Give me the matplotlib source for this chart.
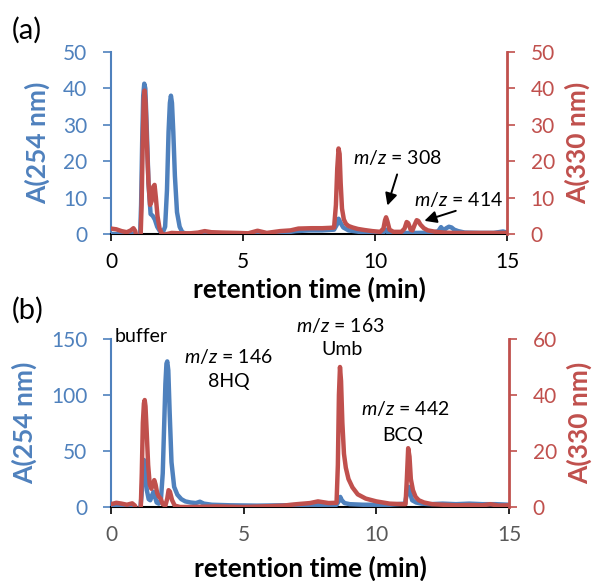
import matplotlib
matplotlib.use("Agg")
import matplotlib.pyplot as plt

plt.rcParams['font.family'] = ['Lato', 'DejaVu Sans']
plt.rcParams['mathtext.fontset'] = 'custom'
plt.rcParams['mathtext.it'] = 'Lato:italic'
plt.rcParams['mathtext.rm'] = 'Lato'

BLUE = '#4F81BD'
RED = '#C0504D'
GRAY = '#595959'

# ---- panel (a) data ----
a_blue_t = [0, 0.5, 0.85, 0.95, 1.1, 1.14, 1.18, 1.22, 1.26, 1.3, 1.35, 1.42, 1.5, 1.58, 1.66,
            1.75, 1.85, 1.95, 2.05, 2.12, 2.18, 2.23, 2.27, 2.31, 2.36, 2.42, 2.5, 2.6, 2.7, 2.85,
            3.5, 4.5, 5.5, 6.5, 7.0, 7.5, 8.0, 8.45, 8.55, 8.62, 8.7, 8.8, 9.0, 9.4, 9.8, 10.3,
            10.42, 10.5, 11.0, 11.6, 12.2, 12.4, 12.5, 12.6, 12.7, 12.8, 12.9, 13.0, 13.15, 13.4,
            14.0, 14.5, 14.85, 15]
a_blue_v = [0, 0, 0, -1, -1, 8, 25, 38, 41.3, 40, 30, 14, 5.5, 5, 4,
            2, 0.8, 0.2, 2, 12, 28, 36, 38, 36, 28, 16, 6, 2, 0.5, 0.1,
            0, 0, 0, 0.3, 0.8, 1.0, 1.0, 1.2, 2.5, 4.2, 3, 1.8, 1.0, 0.6, 0.4, 0.3,
            1.2, 0.3, 0.3, 0.3, 0.4, 0.8, 1.9, 1.0, 1.6, 2.0, 1.8, 1.2, 0.8, 0.4,
            0.3, 0.3, 0.7, 0.4]

a_red_t = [0, 0.2, 0.4, 0.6, 0.75, 0.85, 0.92, 0.97, 1.05, 1.12, 1.16, 1.2, 1.24, 1.27, 1.31,
           1.36, 1.42, 1.48, 1.54, 1.6, 1.65, 1.7, 1.76, 1.84, 1.92, 2.0, 2.3, 2.6, 3.0, 3.3,
           3.55, 3.8, 4.2, 4.8, 5.2, 5.55, 5.9, 6.4, 6.8, 7.1, 7.6, 8.0, 8.3, 8.45, 8.52, 8.57,
           8.62, 8.66, 8.7, 8.75, 8.82, 8.9, 9.0, 9.15, 9.35, 9.6, 9.9, 10.2, 10.32, 10.38,
           10.42, 10.47, 10.55, 10.7, 11.0, 11.12, 11.2, 11.26, 11.35, 11.42, 11.5, 11.58,
           11.64, 11.72, 11.85, 12.0, 12.3, 12.6, 13.0, 14.0, 15]
a_red_v = [1.5, 1.3, 0.8, 0.5, 1.0, 1.6, 0.8, -1, -1, -1, 8, 25, 37, 39.4, 36,
           25, 14, 8, 9, 13, 13.5, 10, 5, 1.5, 0.2, -0.2, 0.3, 0.2, 0.2, 0.4,
           0.8, 0.5, 0.4, 0.3, 0.2, 0.9, 0.3, 0.8, 1.0, 1.5, 1.6, 1.6, 1.7, 1.8, 8, 18,
           23.5, 22, 14, 7, 4, 2.8, 2.2, 1.8, 1.4, 1.1, 0.8, 0.6, 1.5, 3.8,
           4.6, 3.5, 1.2, 0.6, 0.6, 1.5, 3.3, 3.0, 1.2, 1.0, 2.5, 3.8,
           3.6, 2.6, 1.6, 1.0, 0.6, 0.4, 0.3, 0.3, 0.3]

# ---- panel (b) data ----
b_blue_t = [0, 0.5, 0.85, 0.95, 1.1, 1.15, 1.2, 1.24, 1.27, 1.3, 1.35, 1.42, 1.48, 1.54, 1.6,
            1.66, 1.72, 1.8, 1.88, 1.95, 2.0, 2.05, 2.09, 2.12, 2.16, 2.21, 2.28, 2.38, 2.5,
            2.65, 2.8, 3.0, 3.2, 3.35, 3.5, 3.8, 4.5, 5.5, 6.5, 7.5, 8.5, 8.58, 8.64, 8.7, 8.8,
            9.0, 9.5, 10, 10.5, 11.08, 11.15, 11.22, 11.28, 11.35, 11.5, 11.7, 12.0, 12.5, 13,
            13.5, 14, 14.5, 15]
b_blue_v = [2, 1.5, 1, -3, -3, 10, 30, 42, 40, 30, 15, 7, 6, 10, 13.5,
            9, 4, 3, 6, 30, 70, 110, 128, 130, 122, 85, 40, 18, 11,
            7, 5, 4, 3.5, 4.7, 3, 2, 1.5, 1.2, 1.5, 2, 2, 5, 9, 6, 3.5,
            2.5, 2, 2, 2, 3, 12, 18, 12, 6, 4, 3, 2.5, 3, 2.5,
            3, 2.5, 2.5, 2]

b_red_t = [0, 0.2, 0.4, 0.6, 0.8, 0.9, 0.96, 1.05, 1.12, 1.16, 1.2, 1.24, 1.27, 1.3, 1.34,
           1.4, 1.46, 1.52, 1.58, 1.63, 1.68, 1.74, 1.8, 1.87, 1.95, 2.05, 2.12, 2.17, 2.22,
           2.3, 2.4, 2.6, 3, 4, 5, 6, 6.5, 7, 7.5, 7.8, 8.2, 8.5, 8.55, 8.59, 8.63, 8.67, 8.72,
           8.78, 8.85, 8.95, 9.1, 9.3, 9.6, 10, 10.5, 11.0, 11.1, 11.15, 11.2, 11.25, 11.3,
           11.38, 11.48, 11.6, 11.8, 12.1, 12.5, 13, 13.5, 14, 14.3, 14.6, 15]
b_red_v = [1.0, 1.5, 1.2, 0.8, 1.3, 0.5, -1, -1, -1, 12, 30, 37, 38.2, 36, 28,
           15, 8, 6.5, 8, 9.6, 8, 5, 3.7, 3, 1, 0.5, 3, 6, 5.5,
           2.5, 0.5, 0, 0, 0.2, 0, 0.3, 0.5, 1.0, 1.4, 2.0, 1.4, 1.5, 15, 40, 50, 45, 30,
           19, 14, 10, 7, 4.5, 3, 2, 1.2, 1.0, 1.0, 10, 21, 18, 10,
           6, 3.6, 2.4, 1.6, 1.0, 0.8, 0.6, 0.7, 0.6, 1.0, 0.5, 0.6]

x_ticks = [0, 5, 10, 15]
a_left_ticks = [0, 10, 20, 30, 40, 50]
a_right_ticks = [0, 10, 20, 30, 40, 50]
b_left_ticks = [0, 50, 100, 150]
b_right_ticks = [0, 20, 40, 60]

TICK_SIZE = 15
NOTE_SIZE = 14
LABEL_SIZE = 19
ARROW = dict(arrowstyle='-|>', color='black', lw=1.4, mutation_scale=18)


def setup_panel(rect, xt_color, lt, rt):
    ax = fig.add_axes(rect)
    ax2 = ax.twinx()
    ax.set_xlim(0, 15)
    ax.set_ylim(lt[0], lt[-1])
    ax2.set_ylim(rt[0], rt[-1])
    ax.set_xticks(x_ticks)
    ax.set_yticks(lt)
    ax2.set_yticks(rt)
    for a in (ax, ax2):
        a.spines['top'].set_visible(False)
        a.patch.set_visible(False)
    ax.spines['right'].set_visible(False)
    ax2.spines['left'].set_visible(False)
    ax2.spines['bottom'].set_visible(False)
    ax.spines['left'].set_color(BLUE)
    ax.spines['left'].set_linewidth(1.5)
    ax2.spines['right'].set_color(RED)
    ax2.spines['right'].set_linewidth(2)
    ax.spines['bottom'].set_color('black')
    ax.spines['bottom'].set_linewidth(1.5)
    ax.tick_params(axis='x', colors='black', labelcolor=xt_color, labelsize=TICK_SIZE,
                   length=5, width=1.2, pad=8)
    ax.tick_params(axis='y', colors=BLUE, labelsize=TICK_SIZE, length=6, width=1.2, pad=11)
    ax2.tick_params(axis='y', colors=RED, labelsize=TICK_SIZE, length=6, width=1.2, pad=11)
    return ax, ax2


fig = plt.figure(figsize=(5.92, 5.81), dpi=100)

# panel (a)
ax, ax2 = setup_panel([0.1875, 0.5972, 0.6689, 0.3133], 'black', a_left_ticks, a_right_ticks)
ax.plot(a_blue_t, a_blue_v, color=BLUE, lw=3.2, zorder=3)
ax2.plot(a_red_t, a_red_v, color=RED, lw=3.2, zorder=3)
ax2.text(10.83, 20.9, r'$m/z$ = 308', fontsize=NOTE_SIZE, ha='center', va='center')
ax2.annotate('', xy=(10.44, 7.1), xytext=(10.87, 17.1), arrowprops=ARROW)
ax2.text(13.18, 9.5, r'$m/z$ = 414', fontsize=NOTE_SIZE, ha='center', va='center')
ax2.annotate('', xy=(11.77, 3.4), xytext=(13.16, 6.6), arrowprops=ARROW)

# panel (b)
bx, bx2 = setup_panel([0.1875, 0.1274, 0.6723, 0.2891], GRAY, b_left_ticks, b_right_ticks)
bx.plot(b_blue_t, b_blue_v, color=BLUE, lw=3.2, zorder=3)
bx2.plot(b_red_t, b_red_v, color=RED, lw=3.2, zorder=3)
bx.text(0.15, 152, 'buffer', fontsize=NOTE_SIZE, ha='left', va='center', clip_on=False)
bx.text(4.43, 134, r'$m/z$ = 146', fontsize=NOTE_SIZE, ha='center', va='center')
bx.text(4.45, 112, '8HQ', fontsize=NOTE_SIZE, ha='center', va='center')
bx.text(8.65, 162.5, r'$m/z$ = 163', fontsize=NOTE_SIZE, ha='center', va='center', clip_on=False)
bx.text(8.7, 140.6, 'Umb', fontsize=NOTE_SIZE, ha='center', va='center')
bx.text(11.1, 88, r'$m/z$ = 442', fontsize=NOTE_SIZE, ha='center', va='center')
bx.text(11.0, 64, 'BCQ', fontsize=NOTE_SIZE, ha='center', va='center')

# labels
fig.text(0.02, 0.948, '(a)', fontsize=21, va='center', ha='left')
fig.text(0.02, 0.466, '(b)', fontsize=21, va='center', ha='left')
fig.text(0.522, 0.502, 'retention time (min)', fontsize=LABEL_SIZE, fontweight='bold',
         ha='center', va='center')
fig.text(0.525, 0.021, 'retention time (min)', fontsize=LABEL_SIZE, fontweight='bold',
         ha='center', va='center')
fig.text(0.0625, 0.754, 'A(254 nm)', fontsize=LABEL_SIZE, fontweight='bold', color=BLUE,
         rotation=90, ha='center', va='center')
fig.text(0.975, 0.754, 'A(330 nm)', fontsize=LABEL_SIZE, fontweight='bold', color=RED,
         rotation=90, ha='center', va='center')
fig.text(0.042, 0.272, 'A(254 nm)', fontsize=LABEL_SIZE, fontweight='bold', color=BLUE,
         rotation=90, ha='center', va='center')
fig.text(0.978, 0.272, 'A(330 nm)', fontsize=LABEL_SIZE, fontweight='bold', color=RED,
         rotation=90, ha='center', va='center')

fig.savefig('out.png', dpi=100)
